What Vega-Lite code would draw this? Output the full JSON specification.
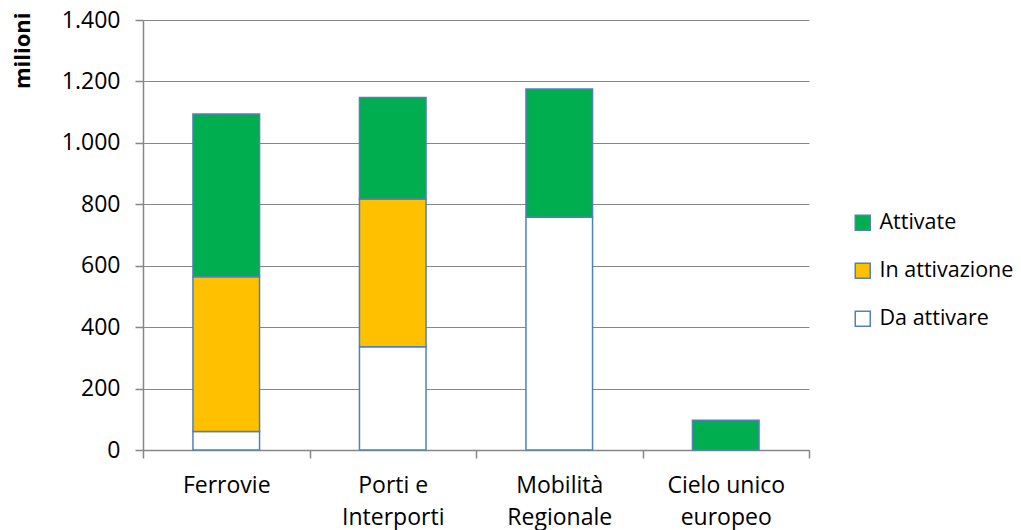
{
  "$schema": "https://vega.github.io/schema/vega-lite/v6.json",
  "width": 666,
  "height": 430,
  "autosize": "none",
  "padding": {"left": 143, "top": 20, "right": 212, "bottom": 80},
  "background": "white",
  "config": {
    "font": "Open Sans",
    "view": {"stroke": null},
    "axis": {"labelFont": "Open Sans", "labelFontSize": 23, "labelColor": "#000000", "domainColor": "#868686", "tickColor": "#868686", "gridColor": "#868686", "domainWidth": 1.5, "tickWidth": 1.5, "gridWidth": 1.2}
  },
  "data": {
    "values": [
      {"categoria": "Ferrovie", "stato": "Da attivare", "ordine": 1, "valore": 60},
      {"categoria": "Ferrovie", "stato": "In attivazione", "ordine": 2, "valore": 504},
      {"categoria": "Ferrovie", "stato": "Attivate", "ordine": 3, "valore": 530},
      {"categoria": "Porti e Interporti", "stato": "Da attivare", "ordine": 1, "valore": 336},
      {"categoria": "Porti e Interporti", "stato": "In attivazione", "ordine": 2, "valore": 481},
      {"categoria": "Porti e Interporti", "stato": "Attivate", "ordine": 3, "valore": 331},
      {"categoria": "Mobilità Regionale", "stato": "Da attivare", "ordine": 1, "valore": 758},
      {"categoria": "Mobilità Regionale", "stato": "Attivate", "ordine": 3, "valore": 417},
      {"categoria": "Cielo unico europeo", "stato": "Attivate", "ordine": 3, "valore": 97}
    ]
  },
  "mark": {"type": "bar", "stroke": "#4F81BD", "strokeWidth": 1.5, "width": {"band": 0.4}},
  "encoding": {
    "x": {
      "field": "categoria",
      "type": "nominal",
      "sort": null,
      "scale": {"paddingInner": 0, "paddingOuter": 0},
      "axis": {
        "title": null,
        "labelAngle": 0,
        "tickBand": "extent",
        "tickSize": 8,
        "labelPadding": 16,
        "labelLineHeight": 32,
        "labelExpr": "datum.value == 'Porti e Interporti' ? ['Porti e', 'Interporti'] : datum.value == 'Mobilità Regionale' ? ['Mobilità', 'Regionale'] : datum.value == 'Cielo unico europeo' ? ['Cielo unico', 'europeo'] : datum.value"
      }
    },
    "y": {
      "field": "valore",
      "type": "quantitative",
      "scale": {"domain": [0, 1400]},
      "axis": {
        "title": "milioni",
        "titleFontWeight": "bold",
        "titleFontSize": 22,
        "titleFont": "Open Sans",
        "titleAlign": "right",
        "titleAngle": -90,
        "titleBaseline": "alphabetic",
        "titleX": -114,
        "titleY": -8,
        "values": [0, 200, 400, 600, 800, 1000, 1200, 1400],
        "grid": true,
        "tickSize": 8,
        "labelPadding": 15,
        "labelExpr": "replace(format(datum.value, ','), ',', '.')"
      }
    },
    "color": {
      "field": "stato",
      "type": "nominal",
      "scale": {"domain": ["Attivate", "In attivazione", "Da attivare"], "range": ["#00AD4F", "#FFC000", "#FFFFFF"]},
      "legend": {
        "title": null,
        "orient": "none",
        "legendX": 709,
        "legendY": 192,
        "symbolType": "square",
        "symbolSize": 225,
        "symbolStrokeColor": "#4F81BD",
        "symbolStrokeWidth": 1.5,
        "labelFontSize": 21.5,
        "labelColor": "#000000",
        "labelLimit": 160,
        "rowPadding": 25,
        "labelOffset": 6
      }
    },
    "order": {"field": "ordine", "type": "quantitative"}
  }
}
